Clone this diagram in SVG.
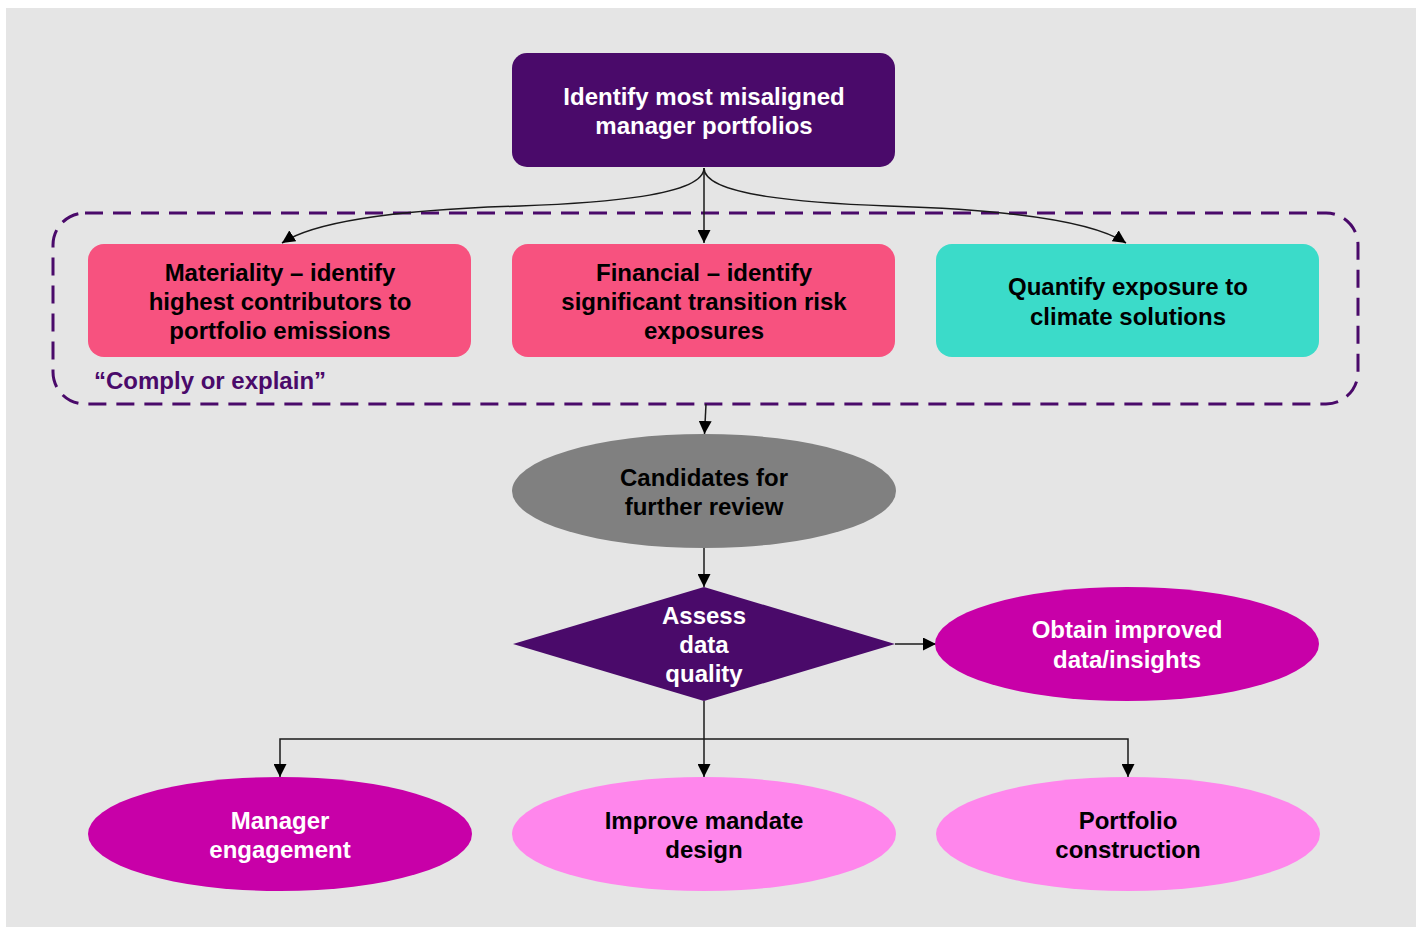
<svg xmlns="http://www.w3.org/2000/svg" width="1418" height="927" viewBox="0 0 1418 927">
<defs>
<marker id="arr" viewBox="0 0 10 10" refX="10" refY="5" markerWidth="13" markerHeight="13" markerUnits="userSpaceOnUse" orient="auto">
<path d="M0,0 L10,5 L0,10 z" fill="#000"/>
</marker>
<style>
text{font-family:"Liberation Sans",Arial,sans-serif;font-weight:bold;font-size:24px;text-anchor:middle}
.w{fill:#fff}
.k{fill:#000}
.c{fill:none;stroke:#1a1a1a;stroke-width:1.5;marker-end:url(#arr)}
.purple{fill:#4a0a6a}
.pink{fill:#f7527f}
.teal{fill:#3bdbc9}
.mag{fill:#c800a8}
.lpink{fill:#ff86ec}
</style>
</defs>
<rect x="0" y="0" width="1418" height="927" fill="#fff"/>
<rect x="6" y="8" width="1410" height="919" fill="#e5e5e5"/>

<g id="group-comply">
<rect x="53" y="213" width="1305" height="191" rx="32" fill="none" stroke="#4a0a6a" stroke-width="3" stroke-dasharray="18,10"/>
<text x="94" y="389" style="fill:#4a0a6a;text-anchor:start">“Comply or explain”</text>
</g>

<g id="connectors">
<path class="c" d="M704,168 C704,196 600,203 520,206 C420,209 320,218 282,243"/>
<path class="c" d="M704,168 C704,196 808,203 888,206 C988,209 1088,218 1126,243"/>
<path class="c" d="M704,168 L704,243"/>
<path class="c" d="M706,404 L704.5,434"/>
<path class="c" d="M704,548 L704,587"/>
<path class="c" d="M895,644 L936,644"/>
<path class="c" d="M704,701 L704,777"/>
<path class="c" d="M704,739 L280,739 L280,777"/>
<path class="c" d="M704,739 L1128,739 L1128,777"/>
</g>

<g id="n-identify">
<rect class="purple" x="512" y="53" width="383" height="114" rx="15"/>
<text class="w" x="704" y="105">Identify most misaligned</text>
<text class="w" x="704" y="134">manager portfolios</text>
</g>

<g id="n-materiality">
<rect class="pink" x="88" y="244" width="383" height="113" rx="16"/>
<text class="k" x="280" y="281">Materiality – identify</text>
<text class="k" x="280" y="310">highest contributors to</text>
<text class="k" x="280" y="339">portfolio emissions</text>
</g>

<g id="n-financial">
<rect class="pink" x="512" y="244" width="383" height="113" rx="16"/>
<text class="k" x="704" y="281">Financial – identify</text>
<text class="k" x="704" y="310">significant transition risk</text>
<text class="k" x="704" y="339">exposures</text>
</g>

<g id="n-quantify">
<rect class="teal" x="936" y="244" width="383" height="113" rx="16"/>
<text class="k" x="1128" y="295">Quantify exposure to</text>
<text class="k" x="1128" y="325">climate solutions</text>
</g>

<g id="n-candidates">
<ellipse cx="704" cy="491" rx="192" ry="57" fill="#808080"/>
<text class="k" x="704" y="486">Candidates for</text>
<text class="k" x="704" y="515">further review</text>
</g>

<g id="n-assess">
<polygon class="purple" points="513,644 704,587 895,644 704,701"/>
<text class="w" x="704" y="624">Assess</text>
<text class="w" x="704" y="653">data</text>
<text class="w" x="704" y="682">quality</text>
</g>

<g id="n-obtain">
<ellipse class="mag" cx="1127" cy="644" rx="192" ry="57"/>
<text class="w" x="1127" y="638">Obtain improved</text>
<text class="w" x="1127" y="668">data/insights</text>
</g>

<g id="n-manager">
<ellipse class="mag" cx="280" cy="834" rx="192" ry="57"/>
<text class="w" x="280" y="829">Manager</text>
<text class="w" x="280" y="858">engagement</text>
</g>

<g id="n-mandate">
<ellipse class="lpink" cx="704" cy="834" rx="192" ry="57"/>
<text class="k" x="704" y="829">Improve mandate</text>
<text class="k" x="704" y="858">design</text>
</g>

<g id="n-portfolio">
<ellipse class="lpink" cx="1128" cy="834" rx="192" ry="57"/>
<text class="k" x="1128" y="829">Portfolio</text>
<text class="k" x="1128" y="858">construction</text>
</g>
</svg>
